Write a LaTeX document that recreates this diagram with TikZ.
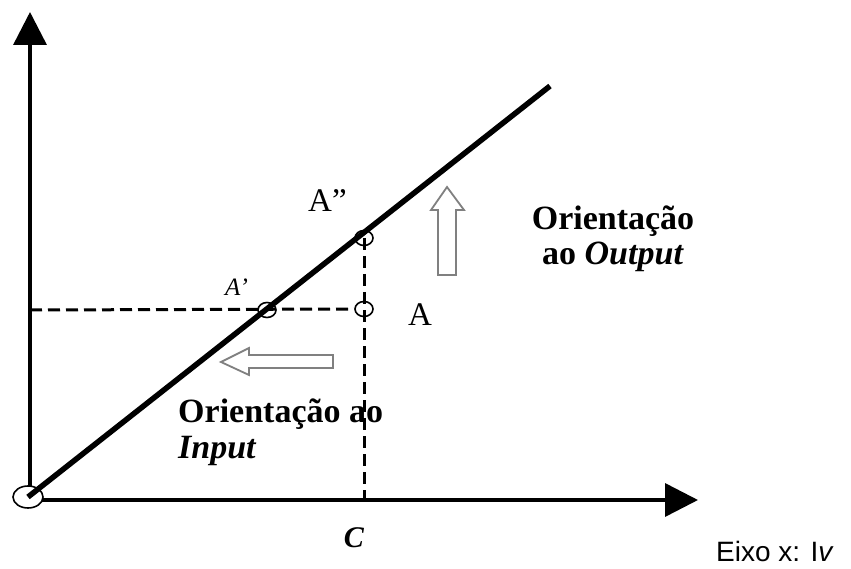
\documentclass[tikz,border=0pt]{standalone}
\usepackage{fontspec}
\setmainfont{Liberation Serif}
\newfontfamily\arialfont{Liberation Sans}
\usetikzlibrary{arrows.meta,shapes.geometric}
\begin{document}
\begin{tikzpicture}[x=1pt,y=-1pt,
  axis/.style={line width=3.5pt, -{Triangle[length=33pt,width=33pt]}},
  mainline/.style={line width=5.5pt},
  guide/.style={line width=3pt, dash pattern=on 12pt off 6pt},
  ptcircle/.style={ellipse, draw, line width=1.6pt, minimum width=18pt, minimum height=15pt, inner sep=0pt},
  origin/.style={ellipse, draw, line width=1.6pt, fill=white, minimum width=30pt, minimum height=22pt, inner sep=0pt},
  hollow/.style={draw=black!50, line width=1.8pt, fill=white, line join=miter},
  lab/.style={inner sep=0pt, font=\fontsize{33}{40}\selectfont},
  lbl/.style={inner sep=0pt, font=\fontsize{34}{40}\selectfont\bfseries},
]
\useasboundingbox (0,0) rectangle (851,569);
% axes
\coordinate (O) at (30,500);
\coordinate (Ytip) at (30,12);
\coordinate (Xtip) at (698,500);
\draw[axis] (O) -- (Ytip);
\draw[axis] (O) -- (Xtip);
\node[origin] (orig) at (28,497) {};
% main line
\coordinate (Lend) at (550,86);
\draw[mainline] (orig.center) -- (Lend);
% points
\node[ptcircle] (Ap) at (267,310) {};
\node[ptcircle] (Apt) at (364,309) {};
\node[ptcircle] (App) at (364,238) {};
\coordinate (Hstart) at (30,310);
\coordinate (Cfoot) at (364,500);
\draw[guide] (Hstart) -- (Apt.west);
\draw[guide] (App.center) -- (Cfoot);
% hollow arrows
\draw[hollow] (438,275) -- (438,210) -- (431,210) -- (447,187) -- (464,210) -- (456,210) -- (456,275) -- cycle;
\draw[hollow] (333,355) -- (249,355) -- (249,348) -- (221,362) -- (249,375) -- (249,368) -- (333,368) -- cycle;
% labels
\node[lab, anchor=base west] (tApp) at (308,212) {A”};
\node[inner sep=0pt, anchor=base west, font=\fontsize{25}{30}\selectfont\itshape] (tAp) at (225,295) {A’};
\node[lab, anchor=base west] (tA) at (408,325) {A};
\node[lbl, anchor=base] (out1) at (613,230) {Orientação};
\node[lbl, anchor=base] (out2) at (613,265) {ao \textit{Output}};
\node[lbl, anchor=base west] (in1) at (178,422) {Orientação ao};
\node[lbl, anchor=base west] (in2) at (178,458) {\textit{Input}};
\node[inner sep=0pt, anchor=base, font=\fontsize{30}{36}\selectfont\bfseries\itshape] (tC) at (354,547) {C};
\node[inner sep=0pt, anchor=base west, font=\arialfont\fontsize{28}{32}\selectfont] (eixo) at (716,561) {Eixo x: I\textit{v}};
\end{tikzpicture}
\end{document}
